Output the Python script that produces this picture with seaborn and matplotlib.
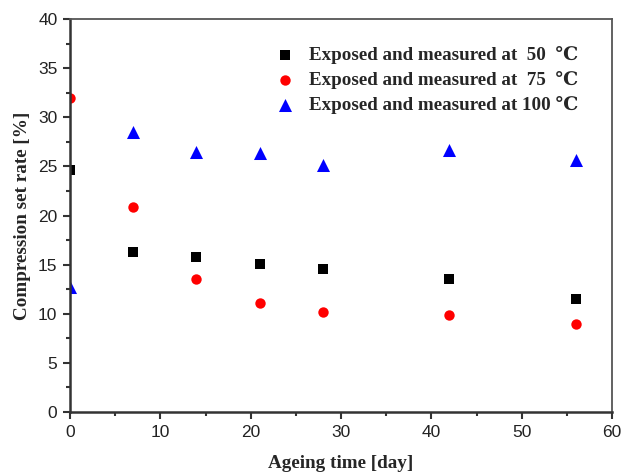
import matplotlib
matplotlib.use("Agg")
import matplotlib.pyplot as plt
from matplotlib.ticker import MultipleLocator
import seaborn as sns
import pandas as pd

days = [0, 7, 14, 21, 28, 42, 56]
rate_50 = [24.6, 16.3, 15.8, 15.1, 14.6, 13.5, 11.5]
rate_75 = [32.0, 20.9, 13.5, 11.1, 10.2, 9.9, 9.0]
rate_100 = [12.7, 28.5, 26.5, 26.4, 25.1, 26.7, 25.7]
labels = ["Exposed and measured at  50  \u2103",
          "Exposed and measured at  75  \u2103",
          "Exposed and measured at 100 \u2103"]
colors = ["#000000", "#ff0000", "#0000ff"]
marker_shapes = ["s", "o", "^"]
marker_areas = [48, 56, 88]

sns.set_style("white")
plt.rcParams["font.family"] = ["Liberation Sans", "DejaVu Sans"]

fig = plt.figure(figsize=(6.21, 4.72), dpi=100)
ax = fig.add_axes([0.1127, 0.1271, 0.873, 0.8326])

for lab, vals, col, mk, area in zip(labels, [rate_50, rate_75, rate_100],
                                    colors, marker_shapes, marker_areas):
    df = pd.DataFrame({"day": days, "rate": vals})
    sns.scatterplot(data=df, x="day", y="rate", color=col, marker=mk, s=area,
                    linewidth=0, ax=ax, zorder=1, label=lab)

ax.set_xlim(0, 60)
ax.set_ylim(0, 40)
ax.xaxis.set_major_locator(MultipleLocator(10))
ax.xaxis.set_minor_locator(MultipleLocator(5))
ax.yaxis.set_major_locator(MultipleLocator(5))
ax.yaxis.set_minor_locator(MultipleLocator(2.5))
ax.tick_params(which="both", direction="out", bottom=True, left=True,
               top=False, right=False, color="#333333", width=1.5)
ax.tick_params(which="major", length=5, labelsize=12.5, labelcolor="#222222", pad=4)
ax.tick_params(which="minor", length=3)

for side in ["left", "bottom"]:
    ax.spines[side].set_color("#333333")
    ax.spines[side].set_linewidth(1.8)
for side in ["top", "right"]:
    ax.spines[side].set_color("#555555")
    ax.spines[side].set_linewidth(1.3)

serif_bold = {"family": ["Liberation Serif", "DejaVu Serif"], "weight": "bold", "size": 13.8}
ax.set_xlabel("Ageing time [day]", fontdict=serif_bold, labelpad=11)
ax.set_ylabel("Compression set rate [%]", fontdict=serif_bold, labelpad=5)

handles, labs = ax.get_legend_handles_labels()
leg = ax.legend(handles, labs, loc="upper left", bbox_to_anchor=(0.337, 0.975),
                frameon=False, handletextpad=0.45, labelspacing=0.38,
                handlelength=1.6,
                prop={"family": ["Liberation Serif", "DejaVu Serif"], "weight": "bold", "size": 13.7})

fig.savefig("out.png", dpi=100)
